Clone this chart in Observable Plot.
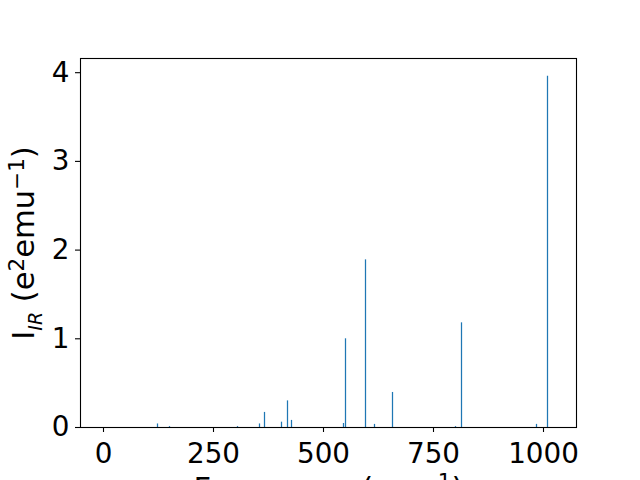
<!DOCTYPE html>
<html><head><meta charset="utf-8">
<script src="https://cdn.jsdelivr.net/npm/d3@7"></script>
<script src="https://cdn.jsdelivr.net/npm/@observablehq/plot@0.6"></script>
<style>body{margin:0;background:#fff;} svg{overflow:visible}</style>
</head><body><div id="chart"></div>
<script>
const freq =      [122.7, 150, 304.5, 353, 366, 404.6, 416.7, 427, 545.5, 548, 595.5, 616, 657, 800, 813, 984, 1007];
const intensity = [0.04, 0.01, 0.01, 0.04, 0.17, 0.06, 0.30, 0.08, 0.045, 1.0, 1.89, 0.035, 0.395, 0.01, 1.18, 0.035, 3.96];
const xTicks = [0, 250, 500, 750, 1000];
const yTicks = [0, 1, 2, 3, 4];
const xLabelParts = [["Frequency (cm", ""], ["\u22121", "sup"], [")", ""]];
const yLabelParts = [["I", ""], ["IR", "sub"], [" (e", ""], ["2", "sup"], ["emu", ""], ["\u22121", "sup"], [")", ""]];

const FS = 27.8;   // tick labels
const LFS = 30.6;  // axis labels
const data = freq.map((f, i) => ({f, v: intensity[i]}));
const xLabel = xLabelParts.map(p => p[0]).join("");
const yLabel = yLabelParts.map(p => p[0]).join("");

const svg = Plot.plot({
  width: 640, height: 480,
  marginLeft: 80, marginRight: 64, marginTop: 58, marginBottom: 53,
  style: {fontFamily: "DejaVu Sans", fontSize: FS + "px", background: "white", overflow: "visible", color: "black"},
  x: {domain: [-53, 1074], label: null, round: true},
  y: {domain: [0, 4.16], label: null},
  marks: [
    Plot.ruleX(data, {x: "f", y1: 0, y2: "v", stroke: "#1f77b4", strokeWidth: 1.25}),
    Plot.frame({stroke: "black", strokeWidth: 1.1}),
    Plot.axisX(xTicks, {tickSize: 5, tickPadding: 11, fontSize: FS, label: null, strokeWidth: 1.1, tickFormat: d => String(d)}),
    Plot.axisY(yTicks, {tickSize: 5, tickPadding: 6, fontSize: FS, label: null, strokeWidth: 1.1, tickFormat: d => String(d)}),
    Plot.text([xLabel], {frameAnchor: "bottom", dy: 50, text: d => d, fontSize: LFS, textAnchor: "middle", lineAnchor: "top"}),
    Plot.text([yLabel], {frameAnchor: "left", dx: -56, rotate: -90, text: d => d, fontSize: LFS, textAnchor: "middle", lineAnchor: "middle"})
  ]
});

function richify(root, plain, parts) {
  d3.select(root).selectAll("text").filter(function () { return this.textContent === plain; }).each(function () {
    const t = d3.select(this);
    t.text(null);
    let shift = 0;
    for (const [s, kind] of parts) {
      const target = kind === "sup" ? -0.33 * LFS : kind === "sub" ? 0.24 * LFS : 0;
      t.append("tspan")
        .attr("dy", target - shift)
        .attr("font-size", kind === "sup" ? 0.7 * LFS : kind === "sub" ? 0.62 * LFS : LFS)
        .attr("font-style", kind === "sub" ? "italic" : null)
        .text(s);
      shift = target;
    }
  });
}
richify(svg, xLabel, xLabelParts);
richify(svg, yLabel, yLabelParts);
document.getElementById("chart").appendChild(svg);
</script>
</body></html>
